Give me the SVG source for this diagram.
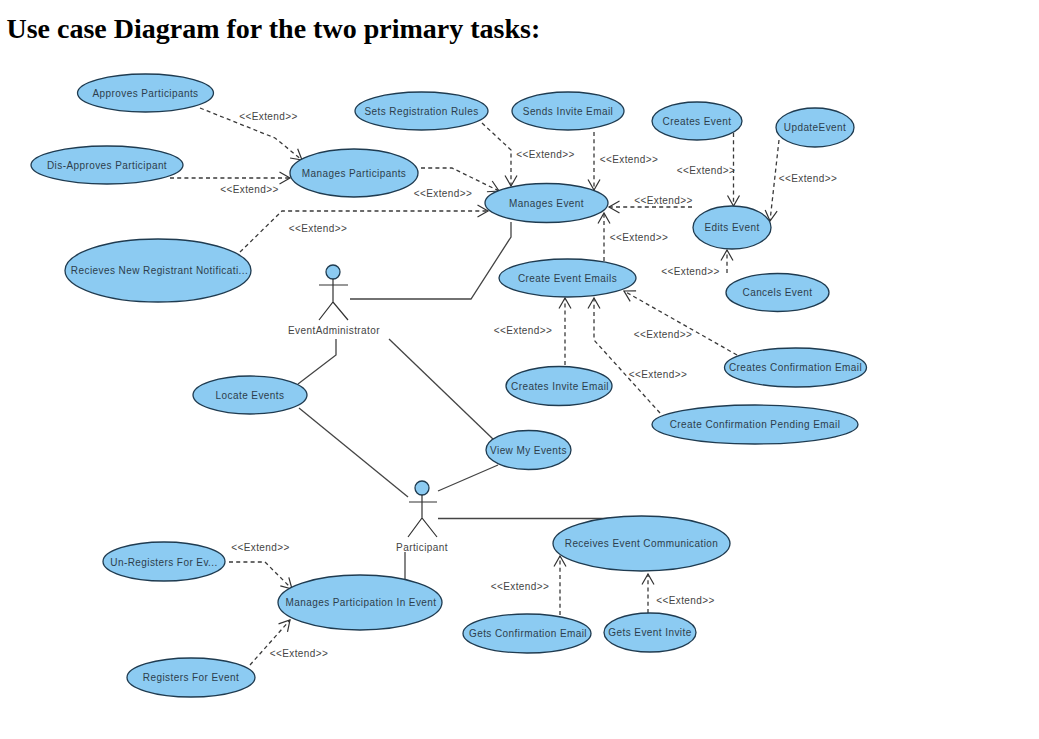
<svg xmlns="http://www.w3.org/2000/svg" width="1039" height="739" viewBox="0 0 1039 739">
<style>
.uc ellipse{fill:#8ccbf2;stroke:#1f3b50;stroke-width:1.3}
text{font-family:"Liberation Sans",Arial,sans-serif;font-size:10px;letter-spacing:.42px;text-anchor:middle;fill:#2c3e4c}
.lb{fill:#444}
.title{font-family:"Liberation Serif","Times New Roman",serif;font-size:28px;font-weight:bold;letter-spacing:0;text-anchor:start;fill:#000}
.d{fill:none;stroke:#3a3a3a;stroke-width:1.3;stroke-dasharray:4 3.2;marker-end:url(#open)}
.s{fill:none;stroke:#444;stroke-width:1.3}
.ac circle{fill:#8ccbf2;stroke:#1f3b50;stroke-width:1.3}
.ac path{fill:none;stroke:#333;stroke-width:1.2}
</style>
<defs>
<marker id="open" markerUnits="userSpaceOnUse" markerWidth="14" markerHeight="16" refX="12" refY="7" orient="auto">
<path d="M1.500 1 L12 7 L1.500 13" fill="none" stroke="#333" stroke-width="1.2"/>
</marker>
</defs>
<rect width="1039" height="739" fill="#fff"/>
<text class="title" x="6.500" y="38">Use case Diagram for the two primary tasks:</text>

<g id="connectors">
<path class="d" d="M200 108L275 138L302 160"/>
<path class="d" d="M170 178H290"/>
<path class="d" d="M421 168H452L499 191"/>
<path class="d" d="M240 252L282 211H488"/>
<path class="d" d="M482 123L511 150V186"/>
<path class="d" d="M594 132V190"/>
<path class="d" d="M733.500 133V206"/>
<path class="d" d="M779 140L770 221"/>
<path class="d" d="M692 207H609"/>
<path class="d" d="M604 261V213"/>
<path class="d" d="M727 273V250"/>
<path class="d" d="M737 355L624 291"/>
<path class="d" d="M565 365V298"/>
<path class="d" d="M660 413L594 340V298"/>
<path class="d" d="M229 562H265L292 589"/>
<path class="d" d="M250 665L290 620"/>
<path class="d" d="M560 615V556"/>
<path class="d" d="M648 613V574"/>
<path class="s" d="M511 222V237L471 299H350"/>
<path class="s" d="M336 339V355L298 384"/>
<path class="s" d="M299 408L408 497"/>
<path class="s" d="M389 339L494 440"/>
<path class="s" d="M438 491L498 465"/>
<path class="s" d="M438 518.500H619"/>
<path class="s" d="M405 552V579"/>
</g>

<g id="connector-labels" class="labels">
<text class="lb" x="268.500" y="120">&lt;&lt;Extend&gt;&gt;</text>
<text class="lb" x="249.500" y="193">&lt;&lt;Extend&gt;&gt;</text>
<text class="lb" x="443" y="197">&lt;&lt;Extend&gt;&gt;</text>
<text class="lb" x="318" y="232">&lt;&lt;Extend&gt;&gt;</text>
<text class="lb" x="545.500" y="158">&lt;&lt;Extend&gt;&gt;</text>
<text class="lb" x="629" y="163">&lt;&lt;Extend&gt;&gt;</text>
<text class="lb" x="706" y="174">&lt;&lt;Extend&gt;&gt;</text>
<text class="lb" x="808" y="182">&lt;&lt;Extend&gt;&gt;</text>
<text class="lb" x="663.500" y="204">&lt;&lt;Extend&gt;&gt;</text>
<text class="lb" x="639" y="241">&lt;&lt;Extend&gt;&gt;</text>
<text class="lb" x="690.500" y="275">&lt;&lt;Extend&gt;&gt;</text>
<text class="lb" x="523" y="334">&lt;&lt;Extend&gt;&gt;</text>
<text class="lb" x="663" y="338">&lt;&lt;Extend&gt;&gt;</text>
<text class="lb" x="658" y="378">&lt;&lt;Extend&gt;&gt;</text>
<text class="lb" x="260.500" y="551">&lt;&lt;Extend&gt;&gt;</text>
<text class="lb" x="299" y="657">&lt;&lt;Extend&gt;&gt;</text>
<text class="lb" x="520" y="590">&lt;&lt;Extend&gt;&gt;</text>
<text class="lb" x="685.500" y="604">&lt;&lt;Extend&gt;&gt;</text>
</g>

<g id="approves-participants" class="uc"><ellipse cx="145.500" cy="93" rx="68" ry="19"/><text x="145.500" y="97">Approves Participants</text></g>
<g id="dis-approves-participant" class="uc"><ellipse cx="107" cy="165" rx="76" ry="19"/><text x="107" y="169">Dis-Approves Participant</text></g>
<g id="manages-participants" class="uc"><ellipse cx="354" cy="173" rx="64" ry="24"/><text x="354" y="177">Manages Participants</text></g>
<g id="recieves-notification" class="uc"><ellipse cx="158" cy="270.500" rx="93" ry="31.500"/><text x="159.500" y="274">Recieves New Registrant Notificati...</text></g>
<g id="sets-registration-rules" class="uc"><ellipse cx="421.500" cy="111" rx="66.500" ry="19"/><text x="421.500" y="115">Sets Registration Rules</text></g>
<g id="sends-invite-email" class="uc"><ellipse cx="568" cy="111" rx="56" ry="19"/><text x="568" y="115">Sends Invite Email</text></g>
<g id="creates-event" class="uc"><ellipse cx="697" cy="121" rx="45" ry="19"/><text x="697" y="125">Creates Event</text></g>
<g id="update-event" class="uc"><ellipse cx="815" cy="127.500" rx="39" ry="19.500"/><text x="815" y="131">UpdateEvent</text></g>
<g id="manages-event" class="uc"><ellipse cx="546.500" cy="203" rx="61.500" ry="19.500"/><text x="546.500" y="207">Manages Event</text></g>
<g id="edits-event" class="uc"><ellipse cx="732" cy="227.500" rx="39" ry="21.500"/><text x="732" y="231">Edits Event</text></g>
<g id="create-event-emails" class="uc"><ellipse cx="567.500" cy="278" rx="68.500" ry="19"/><text x="567.500" y="282">Create Event Emails</text></g>
<g id="cancels-event" class="uc"><ellipse cx="777.500" cy="292.500" rx="51.500" ry="19"/><text x="777.500" y="296">Cancels Event</text></g>
<g id="creates-confirmation-email" class="uc"><ellipse cx="795.500" cy="367.500" rx="71" ry="19.500"/><text x="795.500" y="371">Creates Confirmation Email</text></g>
<g id="create-confirmation-pending" class="uc"><ellipse cx="755" cy="424.500" rx="103" ry="19.500"/><text x="755" y="428">Create Confirmation Pending Email</text></g>
<g id="creates-invite-email" class="uc"><ellipse cx="559" cy="386" rx="53" ry="19.500"/><text x="560" y="390">Creates Invite Email</text></g>
<g id="view-my-events" class="uc"><ellipse cx="528.500" cy="450" rx="42.500" ry="19.500"/><text x="528.500" y="454">View My Events</text></g>
<g id="locate-events" class="uc"><ellipse cx="250" cy="395" rx="57" ry="19"/><text x="250" y="399">Locate Events</text></g>
<g id="receives-event-communication" class="uc"><ellipse cx="641.500" cy="543.500" rx="88.500" ry="27.500"/><text x="641.500" y="547">Receives Event Communication</text></g>
<g id="gets-confirmation-email" class="uc"><ellipse cx="527" cy="633.500" rx="64" ry="19.500"/><text x="528" y="637">Gets Confirmation Email</text></g>
<g id="gets-event-invite" class="uc"><ellipse cx="650" cy="632.500" rx="46" ry="19.500"/><text x="650" y="636">Gets Event Invite</text></g>
<g id="un-registers" class="uc"><ellipse cx="164" cy="561.500" rx="61" ry="19.500"/><text x="164" y="566">Un-Registers For Ev...</text></g>
<g id="manages-participation" class="uc"><ellipse cx="360" cy="602.500" rx="82" ry="27.500"/><text x="361" y="606">Manages Participation In Event</text></g>
<g id="registers-for-event" class="uc"><ellipse cx="191" cy="677.500" rx="64" ry="19.500"/><text x="191" y="681">Registers For Event</text></g>

<g id="event-administrator" class="ac"><circle cx="333" cy="272" r="7"/><path d="M333 279V302M319 285H348M319 320L333 302L348 320"/><text class="lb" x="334" y="334">EventAdministrator</text></g>
<g id="participant" class="ac"><circle cx="422" cy="488" r="7"/><path d="M422 495V518M409 502H437M408 537L422 518L437 537"/><text class="lb" x="422" y="551">Participant</text></g>
</svg>
